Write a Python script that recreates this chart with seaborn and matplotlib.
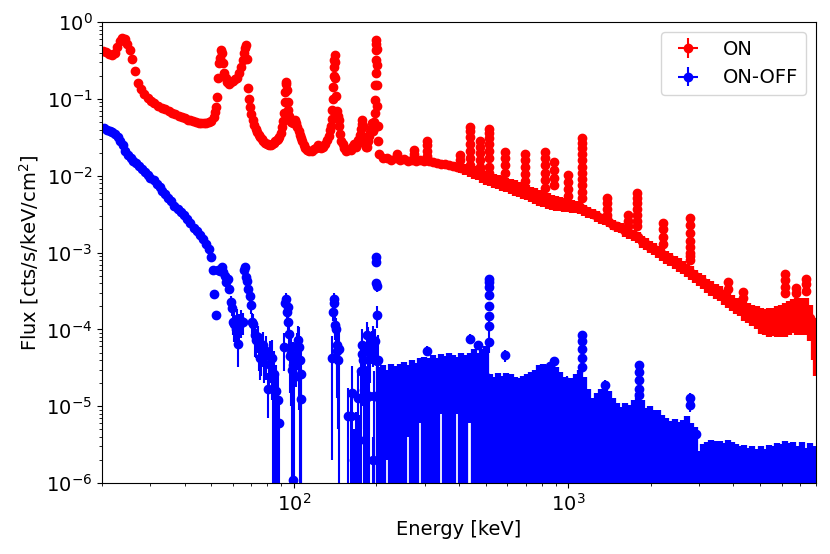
import matplotlib
matplotlib.use("Agg")
import matplotlib.pyplot as plt
import seaborn as sns

# ---------------- data ----------------
BIN_HALF = 0.5        # keV, half bin width (x error)
ON_ERR = 1.0e-6       # small error on the bright ON points
OFF_ERR_LOW = 1.0e-5  # error on the smooth low-energy ON-OFF chain

# ON spectrum, 20-205 keV (individual bins)
on_e_low = [20.2, 20.7, 21.2, 21.7, 22.2, 22.7, 23.2, 23.7, 24.2, 24.7,
            25.2, 25.7, 26.3, 27.0, 27.7, 28.5, 29.3, 30.1, 31.0, 32.0,
            33.0, 34.0, 35.0, 36.0, 37.0, 38.0, 39.0, 40.0, 41.0, 42.0,
            43.0, 44.0, 45.0, 46.0, 47.0, 48.0, 49.0, 50.0, 51.0, 51.6,
            52.0, 52.4, 52.8, 53.2, 53.8, 54.3, 54.8, 55.3, 55.8, 56.5,
            57.3, 58.2, 59.2, 60.2, 61.2, 62.2, 63.2, 64.2, 65.0, 65.8,
            66.4, 66.8, 67.3, 67.9, 68.6, 69.3, 70.0, 70.8, 71.6, 72.5,
            73.5, 74.5, 75.5, 76.5, 77.5, 78.5, 79.5, 80.5, 81.5, 82.5,
            83.5, 84.5, 85.5, 86.5, 87.5, 88.5, 89.5, 90.5, 91.3, 92.0,
            92.6, 93.1, 93.6, 94.0, 94.5, 95.0, 95.6, 96.3, 97.0, 98.0,
            99.0, 100.0, 101.0, 102.0, 103.0, 104.0, 105.0, 106.0, 107.0, 108.5,
            110.0, 112.0, 114.0, 116.0, 118.0, 120.0, 122.0, 124.0, 126.0, 128.0,
            130.0, 132.0, 134.0, 135.5, 136.5, 137.5, 138.2, 138.7, 139.2, 139.6,
            140.0, 140.4, 140.8, 141.3, 141.8, 142.5, 143.5, 144.5, 145.5, 146.5,
            147.5, 149.0, 150.5, 152.5, 155.0, 158.0, 161.0, 163.5, 166.0, 168.0,
            170.0, 172.0, 174.0, 175.5, 176.5, 177.5, 178.5, 180.0, 181.5, 183.0,
            185.0, 186.5, 188.0, 189.5, 191.0, 192.5, 194.0, 195.5, 196.5, 197.5,
            198.0, 198.3, 198.6, 199.0, 199.3, 199.6, 200.0, 200.4, 200.8, 201.3,
            201.8, 202.5, 203.5]
on_flux_low = [0.42, 0.41, 0.39, 0.37, 0.40, 0.48, 0.57, 0.63, 0.60, 0.52,
               0.43, 0.33, 0.23, 0.16, 0.135, 0.115, 0.104, 0.095, 0.088, 0.082,
               0.077, 0.073, 0.069, 0.066, 0.063, 0.060, 0.058, 0.056, 0.054, 0.053,
               0.051, 0.050, 0.049, 0.048, 0.048, 0.049, 0.050, 0.052, 0.058, 0.068,
               0.078, 0.107, 0.19, 0.29, 0.34, 0.43, 0.40, 0.29, 0.22, 0.19,
               0.165, 0.159, 0.165, 0.172, 0.18, 0.19, 0.215, 0.26, 0.32, 0.40,
               0.46, 0.50, 0.33, 0.137, 0.10, 0.079, 0.064, 0.053, 0.046, 0.041,
               0.037, 0.034, 0.032, 0.030, 0.028, 0.027, 0.026, 0.026, 0.025, 0.025,
               0.026, 0.027, 0.028, 0.029, 0.030, 0.032, 0.036, 0.043, 0.052, 0.065,
               0.09, 0.125, 0.155, 0.167, 0.13, 0.09, 0.071, 0.06, 0.053, 0.05,
               0.049, 0.050, 0.053, 0.048, 0.043, 0.038, 0.034, 0.031, 0.028, 0.025,
               0.023, 0.0216, 0.021, 0.021, 0.022, 0.023, 0.025, 0.024, 0.023, 0.024,
               0.026, 0.029, 0.033, 0.039, 0.045, 0.055, 0.071, 0.10, 0.143, 0.20,
               0.26, 0.32, 0.37, 0.30, 0.19, 0.11, 0.07, 0.06, 0.053, 0.045,
               0.035, 0.028, 0.026, 0.023, 0.021, 0.0216, 0.0216, 0.024, 0.026, 0.024,
               0.026, 0.029, 0.034, 0.041, 0.047, 0.053, 0.045, 0.032, 0.026, 0.024,
               0.024, 0.028, 0.033, 0.037, 0.041, 0.048, 0.038, 0.042, 0.050, 0.065,
               0.096, 0.15, 0.22, 0.32, 0.43, 0.52, 0.58, 0.45, 0.28, 0.15,
               0.08, 0.045, 0.028]

# common energy grid for the dense part of both spectra (205-8000 keV)
grid_e = [205, 212, 219, 227, 235, 243, 252, 261, 270, 279,
          289, 299, 310, 321, 332, 343, 355, 368, 381, 394,
          408, 422, 437, 452, 468, 485, 502, 519, 537, 556,
          576, 596, 617, 638, 661, 684, 708, 732, 758, 785,
          812, 841, 870, 900, 932, 965, 998, 1033, 1069, 1107,
          1146, 1186, 1227, 1270, 1315, 1361, 1408, 1458, 1509, 1561,
          1616, 1673, 1731, 1792, 1855, 1920, 1987, 2056, 2128, 2203,
          2280, 2360, 2442, 2528, 2616, 2708, 2803, 2901, 3002, 3107,
          3216, 3329, 3445, 3566, 3691, 3820, 3953, 4092, 4235, 4383,
          4537, 4695, 4860, 5030, 5206, 5388, 5577, 5772, 5974, 6183,
          6399, 6623, 6855, 7095, 7344, 7601, 7867, 7990]

on_flux_high = [0.0190, 0.0172, 0.0168, 0.0163, 0.0170, 0.0160, 0.0165, 0.0158, 0.0163, 0.0157,
                0.0160, 0.0154, 0.0158, 0.0150, 0.0148, 0.0143, 0.0142, 0.0137, 0.0135, 0.0131,
                0.0128, 0.0123, 0.0118, 0.0113, 0.0108, 0.0102, 0.0096, 0.0092, 0.0088, 0.0085,
                0.0081, 0.0078, 0.0074, 0.0071, 0.0068, 0.0065, 0.0062, 0.0059, 0.0056, 0.0053,
                0.0050, 0.0048, 0.0046, 0.0045, 0.0044, 0.0043, 0.0042, 0.0041, 0.0040, 0.0039,
                0.0036, 0.0034, 0.0032, 0.0030, 0.0028, 0.0027, 0.0025, 0.0023, 0.0022, 0.0021,
                0.0019, 0.0018, 0.0017, 0.0016, 0.0014, 0.0013, 0.0012, 0.00112, 0.00104, 0.00096,
                0.00089, 0.00082, 0.00076, 0.00070, 0.00065, 0.00060, 0.00055, 0.00050, 0.00046, 0.00042,
                0.00038, 0.00035, 0.00032, 0.00030, 0.00027, 0.00025, 0.00023, 0.00021, 0.00020, 0.00018,
                0.00017, 0.00016, 0.00015, 0.000138, 0.000135, 0.000135, 0.000138, 0.00014, 0.000145, 0.00015,
                0.00016, 0.00017, 0.00017, 0.00017, 0.00017, 0.00014, 0.00009, 0.00005]
on_err_high = [0.0012, 0.0012, 0.0012, 0.0012, 0.0012, 0.0012, 0.0012, 0.0012, 0.0012, 0.0012,
               0.0015, 0.0015, 0.0015, 0.0015, 0.0015, 0.0015, 0.0015, 0.0015, 0.0015, 0.0015,
               0.0020, 0.0020, 0.0021, 0.0021, 0.0021, 0.0021, 0.0020, 0.0019, 0.0019, 0.0018,
               0.0018, 0.0017, 0.0016, 0.0016, 0.0015, 0.0015, 0.0014, 0.0013, 0.0013, 0.0012,
               0.0011, 0.0011, 0.0010, 0.0010, 0.0009, 0.0009, 0.0008, 0.0008, 0.0007, 0.0007,
               0.0006, 0.00055, 0.0005, 0.00046, 0.00043, 0.0004, 0.00037, 0.00035, 0.00033, 0.00031,
               0.0003, 0.00029, 0.00028, 0.00027, 0.00025, 0.00023, 0.00022, 0.0002, 0.00019, 0.00018,
               0.00017, 0.00016, 0.00015, 0.00014, 0.00013, 0.00012, 0.00011, 0.0001, 9e-5, 8.5e-5,
               8e-5, 7.5e-5, 7e-5, 6.5e-5, 6e-5, 6e-5, 5.5e-5, 5e-5, 5e-5, 5e-5,
               5e-5, 5e-5, 5e-5, 5e-5, 5e-5, 5.5e-5, 5.5e-5, 6e-5, 6.5e-5, 7e-5,
               7.5e-5, 8e-5, 8.5e-5, 8.5e-5, 8.5e-5, 7e-5, 5e-5, 2.5e-5]

# ON line stacks above the continuum (energy -> stacked bin values)
on_line_e = [238, 274, 306, 405, 440, 476, 513, 590, 698, 820, 885, 1000,
             1122, 1383, 1657, 1778, 2222, 2780, 3826, 4339, 6150, 6790, 7380]
on_line_flux = [[0.0195],
                [0.0216, 0.019],
                [0.028, 0.025, 0.021, 0.018],
                [0.0186, 0.016],
                [0.043, 0.038, 0.032, 0.026, 0.021, 0.017, 0.014],
                [0.028, 0.024, 0.020, 0.016, 0.013],
                [0.041, 0.036, 0.031, 0.026, 0.021, 0.017, 0.013, 0.011],
                [0.0205, 0.017, 0.014, 0.011],
                [0.0195, 0.016, 0.013, 0.0105, 0.0085],
                [0.0205, 0.017, 0.014, 0.011, 0.0088, 0.007],
                [0.0152, 0.012, 0.0095, 0.0075],
                [0.0101, 0.0083, 0.0068, 0.0055],
                [0.031, 0.027, 0.023, 0.019, 0.016, 0.013, 0.011, 0.009, 0.0075, 0.0062, 0.0052],
                [0.0051, 0.0044, 0.0037, 0.0031],
                [0.0031, 0.0026, 0.0022],
                [0.0059, 0.0051, 0.0044, 0.0037, 0.0031, 0.0026, 0.0022],
                [0.0024, 0.0020, 0.0016, 0.0013],
                [0.0028, 0.0023, 0.0018, 0.0014, 0.0012, 0.0010, 0.0009, 0.0008],
                [0.00041, 0.00034],
                [0.00031, 0.00026],
                [0.00053, 0.00044, 0.00036, 0.0003],
                [0.00035, 0.0003],
                [0.00046, 0.00039, 0.00032]]

# ON-OFF, smooth low-energy part
off_e_low = [20.3, 20.8, 21.3, 21.8, 22.3, 22.8, 23.3, 23.8, 24.3, 24.8,
             25.4, 26.0, 26.6, 27.2, 27.9, 28.6, 29.3, 30.0, 30.8, 31.6,
             32.4, 33.2, 34.0, 34.9, 35.8, 36.7, 37.7, 38.7, 39.8, 40.9,
             42.0, 43.2, 44.4, 45.6, 46.8, 48.0, 49.0, 50.0, 50.8]
off_flux_low = [0.042, 0.040, 0.038, 0.037, 0.035, 0.032, 0.028, 0.025, 0.021, 0.0185,
                0.0170, 0.0158, 0.0147, 0.0135, 0.0124, 0.0112, 0.0102, 0.0095, 0.0087, 0.0079,
                0.0071, 0.0064, 0.0058, 0.0052, 0.0047, 0.0041, 0.0037, 0.0034, 0.0031, 0.0027,
                0.0024, 0.0021, 0.0019, 0.0017, 0.0015, 0.0013, 0.0011, 0.00088, 0.00059]

# ON-OFF, scattered 50-205 keV
off_e_mid = [51.3, 52.0, 53.0, 53.8, 54.5, 55.2, 56.0, 56.8, 57.5, 58.2,
             58.8, 59.4, 60.0, 60.7, 61.4, 62.0, 62.4, 63.3, 64.0, 65.0,
             65.8, 66.4, 66.8, 67.3, 68.0, 69.0, 69.8, 70.5, 71.0, 72.0,
             73.0, 73.8, 74.5, 75.3, 76.0, 77.0, 78.0, 79.0, 80.2, 81.0,
             82.0, 83.0, 84.0, 85.0, 86.0, 87.3, 88.0, 92.2, 93.0, 93.6,
             94.2, 95.0, 95.6, 96.1, 97.0, 97.5, 98.2, 98.9, 99.5, 100.3,
             101.5, 102.5, 103.5, 104.5, 105.3, 106.0, 106.6, 138.0, 139.5, 140.0,
             140.6, 141.5, 142.2, 143.3, 144.0, 145.0, 146.0, 157.0, 161.0, 163.0,
             166.0, 169.0, 171.0, 173.0, 175.0, 176.5, 177.5, 178.5, 179.5, 180.5,
             181.5, 183.0, 185.0, 186.5, 188.0, 190.0, 192.0, 194.0, 195.0, 196.5,
             198.0, 199.0, 199.5, 200.0, 200.5, 201.0, 201.5, 202.5]
off_flux_mid = [2.9e-4, 1.53e-4, 6.0e-4, 5.8e-4, 6.5e-4, 5.6e-4, 5.0e-4, 4.2e-4, 4.6e-4, 3.4e-4,
                2.3e-4, 1.9e-4, 1.25e-4, 1.19e-4, 1.0e-4, 1.35e-4, 6.5e-5, 1.1e-4, 1.28e-4, 1.25e-4,
                6.0e-4, 6.5e-4, 4.8e-4, 4.3e-4, 3.4e-4, 2.7e-4, 2.1e-4, 1.25e-4, 1.18e-4, 8.4e-5,
                7.2e-5, 8.0e-5, 5.9e-5, 4.2e-5, 5.5e-5, 6.2e-5, 4.5e-5, 5.2e-5, 1.7e-5, 3.5e-5,
                4.5e-5, 4.2e-5, 2.5e-5, 2.6e-5, 1.6e-5, 1.2e-5, 6.0e-6, 5.9e-5, 2.2e-4, 2.5e-4,
                1.68e-4, 1.95e-4, 1.25e-4, 8.8e-5, 4.5e-5, 5.0e-5, 3.0e-5, 3.4e-5, 1.1e-6, 2.4e-5,
                3.8e-5, 6.0e-5, 7.2e-5, 5.9e-5, 4.0e-5, 2.6e-5, 1.25e-5, 4.2e-5, 1.7e-4, 2.5e-4,
                2.2e-4, 1.13e-4, 1.0e-4, 6.2e-5, 5.3e-5, 4.0e-5, 5.6e-5, 7.5e-6, 7.5e-6, 1.5e-5,
                2.0e-6, 3.5e-6, 1.3e-5, 3.6e-6, 2.9e-5, 4.8e-5, 6.2e-5, 4.0e-5, 3.0e-5, 1.65e-5,
                2.3e-5, 1.3e-5, 8.5e-5, 5.3e-5, 1.35e-5, 5.0e-5, 6.5e-5, 2.0e-6, 7.2e-5, 1.35e-5,
                7.0e-5, 4.0e-4, 8.8e-4, 7.5e-4, 3.7e-4, 1.53e-4, 3.9e-5, 4.0e-5]
off_err_mid = [3e-5, 2e-5, 4e-5, 4e-5, 5e-5, 5e-5, 5e-5, 5e-5, 5e-5, 5e-5,
               4e-5, 4e-5, 4e-5, 5e-5, 4e-5, 5e-5, 3.3e-5, 5e-5, 5e-5, 4e-5,
               6e-5, 6e-5, 6e-5, 6e-5, 5e-5, 5e-5, 5e-5, 4e-5, 4e-5, 4e-5,
               3e-5, 3e-5, 3e-5, 2e-5, 3e-5, 3e-5, 2.5e-5, 3e-5, 1e-5, 2e-5,
               2.5e-5, 3e-5, 2.6e-5, 2.7e-5, 1.8e-5, 1.3e-5, 7e-6, 3e-5, 4e-5, 5e-5,
               4e-5, 4e-5, 4e-5, 4e-5, 3e-5, 4e-5, 3.1e-5, 3.5e-5, 1e-6, 2.5e-5,
               2e-5, 3e-5, 4e-5, 5e-5, 4.2e-5, 2.8e-5, 1.4e-5, 4.0e-5, 4e-5, 5e-5,
               5e-5, 4e-5, 4e-5, 4e-5, 4e-5, 3.5e-5, 5.7e-5, 1e-5, 9e-6, 1.8e-5,
               3e-6, 5e-6, 1.4e-5, 4e-6, 3e-5, 3e-5, 4e-5, 3e-5, 2.5e-5, 1.7e-5,
               2.4e-5, 1.2e-5, 4e-5, 5.4e-5, 1.4e-5, 3e-5, 3e-5, 2e-6, 4e-5, 1.5e-5,
               3e-5, 6e-5, 8e-5, 8e-5, 6e-5, 5e-5, 4e-5, 4.5e-5]

# ON-OFF, dense part on the common grid
off_flux_high = [1.3e-5, 1.4e-5, 1.6e-5, 1.4e-5, 1.3e-5, 1.4e-5, 1.5e-5, 1.9e-5, 1.6e-5, 1.5e-5,
                 2.4e-5, 1.8e-5, 1.7e-5, 1.8e-5, 1.7e-5, 2.8e-5, 1.8e-5, 2.0e-5, 1.8e-5, 2.6e-5,
                 2.0e-5, 1.9e-5, 2.8e-5, 2.2e-5, 2.0e-5, 2.2e-5, 2.4e-5, 1.0e-5, 1.0e-5, 1.1e-5,
                 1.0e-5, 1.1e-5, 1.0e-5, 1.0e-5, 0.9e-5, 1.0e-5, 1.0e-5, 1.1e-5, 1.2e-5, 1.4e-5,
                 1.4e-5, 1.3e-5, 1.5e-5, 1.3e-5, 1.1e-5, 1.0e-5, 0.8e-5, 0.9e-5, 1.0e-5, 1.2e-5,
                 1.0e-5, 0.7e-5, 5e-6, 6e-6, 7e-6, 7.5e-6, 6.5e-6, 5e-6, 4.5e-6, 4e-6,
                 4.5e-6, 4.2e-6, 5e-6, 6e-6, 5e-6, 3.8e-6, 4e-6, 3.6e-6, 3.6e-6, 3.1e-6,
                 2.8e-6, 2.6e-6, 2.7e-6, 2.5e-6, 2.6e-6, 3.0e-6, 2.4e-6, 2.2e-6, 1.0e-6, 1.3e-6,
                 1.4e-6, 1.4e-6, 1.4e-6, 1.4e-6, 1.3e-6, 1.4e-6, 1.4e-6, 1.3e-6, 1.2e-6, 1.2e-6,
                 1.2e-6, 1.2e-6, 1.1e-6, 1.2e-6, 1.1e-6, 1.2e-6, 1.2e-6, 1.3e-6, 1.3e-6, 1.4e-6,
                 1.3e-6, 1.4e-6, 1.2e-6, 1.4e-6, 1.2e-6, 1.3e-6, 1.2e-6, 1.1e-6]
off_err_high = [1.9e-5, 2.0e-5, 1.4e-5, 2.2e-5, 2.0e-5, 2.1e-5, 2.3e-5, 1.5e-5, 2.4e-5, 2.2e-5,
                1.8e-5, 2.6e-5, 2.5e-5, 2.8e-5, 2.6e-5, 2.0e-5, 2.7e-5, 2.9e-5, 2.8e-5, 1.8e-5,
                3.0e-5, 2.8e-5, 2.2e-5, 3.3e-5, 3.0e-5, 3.3e-5, 3.6e-5, 1.6e-5, 1.4e-5, 1.6e-5,
                1.5e-5, 1.6e-5, 1.6e-5, 1.4e-5, 1.4e-5, 1.5e-5, 1.6e-5, 1.7e-5, 1.8e-5, 2.0e-5,
                2.2e-5, 2.0e-5, 2.3e-5, 1.9e-5, 1.7e-5, 1.4e-5, 1.3e-5, 1.4e-5, 1.6e-5, 1.8e-5,
                1.4e-5, 1.0e-5, 8e-6, 9e-6, 1.0e-5, 1.15e-5, 9.5e-6, 8e-6, 6.5e-6, 5.8e-6,
                6.5e-6, 6.3e-6, 7e-6, 9e-6, 7e-6, 5.6e-6, 6e-6, 5.4e-6, 5.3e-6, 4.7e-6,
                4.2e-6, 3.9e-6, 4.1e-6, 3.8e-6, 4.0e-6, 4.5e-6, 3.6e-6, 3.2e-6, 1.6e-6, 1.9e-6,
                2.0e-6, 2.2e-6, 2.1e-6, 2.1e-6, 2.0e-6, 2.2e-6, 2.0e-6, 1.9e-6, 1.8e-6, 1.9e-6,
                1.7e-6, 1.8e-6, 1.7e-6, 1.8e-6, 1.7e-6, 1.9e-6, 1.8e-6, 2.0e-6, 1.9e-6, 2.1e-6,
                2.0e-6, 2.0e-6, 1.8e-6, 2.0e-6, 1.7e-6, 2.0e-6, 1.8e-6, 1.7e-6]

# ON-OFF line stacks sticking out of the noise
off_line_e = [306, 440, 470, 513, 590, 861, 885, 988, 1122, 1364, 1815, 2780, 2920]
off_line_flux = [[5.3e-5],
                 [7.6e-5],
                 [6.2e-5],
                 [6.9e-5, 1.1e-4, 1.5e-4, 2.0e-4, 2.8e-4, 3.6e-4, 4.1e-4, 4.6e-4],
                 [4.6e-5],
                 [3.3e-5],
                 [3.9e-5],
                 [2.1e-5],
                 [3.2e-5, 4.2e-5, 5.5e-5, 7.1e-5, 8.5e-5],
                 [1.9e-5],
                 [1.4e-5, 1.7e-5, 2.2e-5, 2.8e-5, 3.4e-5],
                 [1.05e-5, 1.3e-5],
                 [4.4e-6]]
off_line_err = [8e-6, 1e-5, 8e-6, 2e-5, 8e-6, 5e-6, 5e-6, 4e-6, 6e-6, 3e-6, 3e-6, 2e-6, 1e-6]

# flatten the stacks into plain x / y tables
on_lx = [e for e, vals in zip(on_line_e, on_line_flux) for _ in vals]
on_ly = [v for vals in on_line_flux for v in vals]
off_lx = [e for e, vals in zip(off_line_e, off_line_flux) for _ in vals]
off_ly = [v for vals in off_line_flux for v in vals]
off_lerr = [err for err, vals in zip(off_line_err, off_line_flux) for _ in vals]

# ---------------- style ----------------
sns.set_theme(style="ticks", rc={
    "axes.edgecolor": "black", "axes.linewidth": 0.8,
    "axes.labelcolor": "black", "text.color": "black",
    "xtick.color": "black", "ytick.color": "black",
    "xtick.major.size": 3.5, "ytick.major.size": 3.5,
    "xtick.minor.size": 2.0, "ytick.minor.size": 2.0,
    "xtick.major.width": 0.8, "ytick.major.width": 0.8,
    "xtick.minor.width": 0.6, "ytick.minor.width": 0.6,
    "lines.markersize": 6, "lines.linewidth": 1.5,
})
plt.rcParams["font.family"] = ["DejaVu Sans"]

fig, ax = plt.subplots(figsize=(8.3, 5.54), dpi=100)
fig.subplots_adjust(left=0.123, right=0.983, top=0.960, bottom=0.128)
ax.set_xscale("log")
ax.set_yscale("log")

# ON
ax.errorbar(on_e_low, on_flux_low, xerr=BIN_HALF, yerr=ON_ERR,
            fmt="o", color="red", label="ON")
ax.errorbar(grid_e, on_flux_high, xerr=BIN_HALF, yerr=on_err_high,
            fmt="o", color="red", elinewidth=4.5)
ax.errorbar(on_lx, on_ly, xerr=BIN_HALF, yerr=ON_ERR, fmt="o", color="red")

# ON-OFF
ax.errorbar(off_e_low, off_flux_low, xerr=BIN_HALF, yerr=OFF_ERR_LOW,
            fmt="o", color="blue", label="ON-OFF")
ax.errorbar(off_e_mid, off_flux_mid, xerr=BIN_HALF, yerr=off_err_mid,
            fmt="o", color="blue")
ax.errorbar(grid_e, off_flux_high, xerr=BIN_HALF, yerr=off_err_high,
            fmt="o", color="blue", elinewidth=4.5)
ax.errorbar(off_lx, off_ly, xerr=BIN_HALF, yerr=off_lerr, fmt="o", color="blue")

ax.set_xlim(20, 8000)
ax.set_ylim(1e-6, 1)
ax.set_xlabel("Energy [keV]", fontsize=14)
ax.set_ylabel("Flux [cts/s/keV/cm$^2$]", fontsize=14)
ax.tick_params(axis="both", which="major", labelsize=14)
ax.legend(loc="upper right", fontsize=14)

fig.savefig("out.png", dpi=100)
